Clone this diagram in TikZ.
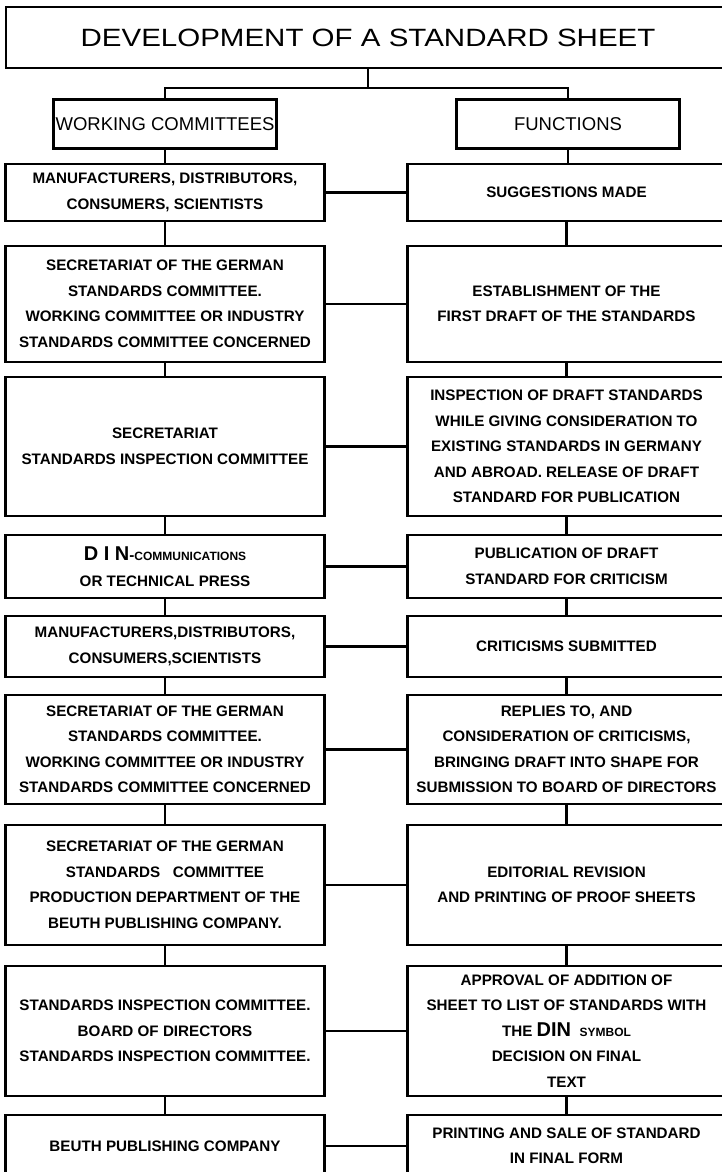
\documentclass[tikz,border=0pt]{standalone}
\usepackage{fontspec}
\setmainfont{Liberation Sans}
\newfontfamily\titlefont[FakeStretch=1.18]{Liberation Sans}
\usetikzlibrary{calc, positioning}
\def\lw{319pt}
\def\rw{318pt}
\def\cross{83pt}
\tikzset{
    border/.style = {
        draw, rectangle, line width=2.4pt, align=center, inner sep=0pt, outer sep=0pt
    },
    leftblock/.style = {
        border, minimum width=\lw, minimum height=#1
    },
    rightblock/.style = {
        border, minimum width=\rw, minimum height=#1
    },
    headblock/.style = {
        border, minimum width=223pt, minimum height=49pt, font=\fontsize{18.5}{22}\selectfont
    },
    link/.style = {line width=2.4pt},
}

\begin{document}
\begin{tikzpicture}[x=1pt, y=-1pt, every node/.style={font=\bfseries\fontsize{15.2}{25.5}\selectfont}]
        % Fix the sheet
        \path[use as bounding box, clip] (0,0) rectangle (722,1172);
        \fill[white] (0,0) rectangle (722,1172);

        % Place the headings
        \node [border, minimum width=724pt, minimum height=61pt, line width=2pt, font=\titlefont\fontsize{25}{30}\selectfont] (title) at (368,37.5) {DEVELOPMENT OF A STANDARD SHEET};
        \coordinate (hub) at (368,88);
        \node [headblock] (wc) at (165,124) {WORKING COMMITTEES};
        \node [headblock] (fn) at (568,124) {FUNCTIONS};

        % Place the blocks, left column
        \node [leftblock=57pt, below=15.5pt of wc] (l1) {MANUFACTURERS, DISTRIBUTORS,\\CONSUMERS, SCIENTISTS};
        \node [leftblock=116pt, below=25pt of l1] (l2) {SECRETARIAT OF THE GERMAN\\STANDARDS COMMITTEE.\\WORKING COMMITTEE OR INDUSTRY\\STANDARDS COMMITTEE CONCERNED};
        \node [leftblock=139pt, below=15pt of l2] (l3) {SECRETARIAT\\STANDARDS INSPECTION COMMITTEE};
        \node [leftblock=63pt, below=19pt of l3] (l4) {{\fontsize{20}{25.5}\selectfont D~I~N}-{\fontsize{12}{25.5}\selectfont COMMUNICATIONS}\\OR TECHNICAL PRESS};
        \node [leftblock=61pt, below=18pt of l4] (l5) {MANUFACTURERS,DISTRIBUTORS,\\CONSUMERS,SCIENTISTS};
        \node [leftblock=109pt, below=18pt of l5] (l6) {SECRETARIAT OF THE GERMAN\\STANDARDS COMMITTEE.\\WORKING COMMITTEE OR INDUSTRY\\STANDARDS COMMITTEE CONCERNED};
        \node [leftblock=120pt, below=21pt of l6] (l7) {SECRETARIAT OF THE GERMAN\\STANDARDS\ \ \ COMMITTEE\\PRODUCTION DEPARTMENT OF THE\\BEUTH PUBLISHING COMPANY.};
        \node [leftblock=130pt, below=21pt of l7] (l8) {STANDARDS INSPECTION COMMITTEE.\\BOARD OF DIRECTORS\\STANDARDS INSPECTION COMMITTEE.};
        \node [leftblock=62pt, below=19pt of l8] (l9) {BEUTH PUBLISHING COMPANY};

        % Place the blocks, right column
        \node [rightblock=57pt, right=\cross of l1] (r1) {SUGGESTIONS MADE};
        \node [rightblock=116pt, right=\cross of l2] (r2) {ESTABLISHMENT OF THE\\FIRST DRAFT OF THE STANDARDS};
        \node [rightblock=139pt, right=\cross of l3] (r3) {INSPECTION OF DRAFT STANDARDS\\WHILE GIVING CONSIDERATION TO\\EXISTING STANDARDS IN GERMANY\\AND ABROAD. RELEASE OF DRAFT\\STANDARD FOR PUBLICATION};
        \node [rightblock=63pt, right=\cross of l4] (r4) {PUBLICATION OF DRAFT\\STANDARD FOR CRITICISM};
        \node [rightblock=61pt, right=\cross of l5] (r5) {CRITICISMS SUBMITTED};
        \node [rightblock=109pt, right=\cross of l6] (r6) {REPLIES TO, AND\\CONSIDERATION OF CRITICISMS,\\BRINGING DRAFT INTO SHAPE FOR\\SUBMISSION TO BOARD OF DIRECTORS};
        \node [rightblock=120pt, right=\cross of l7] (r7) {EDITORIAL REVISION\\AND PRINTING OF PROOF SHEETS};
        \node [rightblock=130pt, right=\cross of l8] (r8) {APPROVAL OF ADDITION OF\\SHEET TO LIST OF STANDARDS WITH\\THE {\fontsize{20}{25.5}\selectfont DIN}\ \ {\fontsize{12}{25.5}\selectfont SYMBOL}\\DECISION ON FINAL\\TEXT};
        \node [rightblock=62pt, right=\cross of l9] (r9) {PRINTING AND SALE OF STANDARD\\IN FINAL FORM};

        % Draw connections
        \begin{scope}[link]
            \draw (title.south) -- (hub);
            \draw (wc.north) |- (hub) -| (fn.north);
            \draw (wc.south) -- (l1.north);
            \draw (fn.south) -- (fn.south |- r1.north);
            \foreach \a/\b in {1/2, 2/3, 3/4, 4/5, 5/6, 6/7, 7/8, 8/9}{
                \draw (l\a.south) -- (l\b.north);
                \draw (r\a.south) -- (r\b.north);
            }
            \foreach \a in {1,...,9}{
                \draw (l\a.east) -- (r\a.west);
            }
        \end{scope}
\end{tikzpicture}
\end{document}
